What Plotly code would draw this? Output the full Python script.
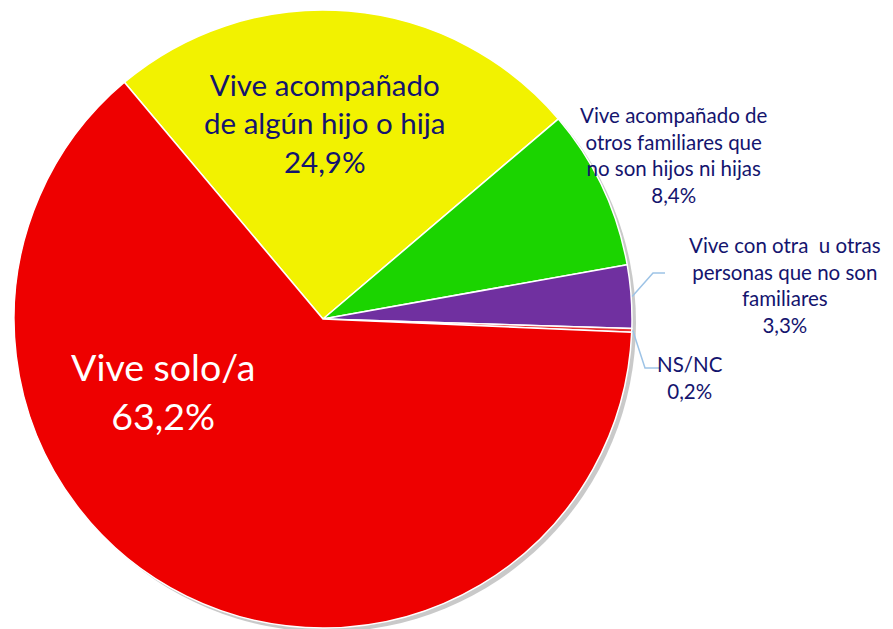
import math
import plotly.graph_objects as go

labels = ["Vive acompañado de algún hijo o hija",
          "Vive acompañado de otros familiares que no son hijos ni hijas",
          "Vive con otra  u otras personas que no son familiares",
          "NS/NC",
          "Vive solo/a"]
values = [24.9, 8.4, 3.3, 0.2, 63.2]
label_lines = [["Vive acompañado", "de algún hijo o hija"],
               ["Vive acompañado de", "otros familiares que", "no son hijos ni hijas"],
               ["Vive con otra  u otras", "personas que no son", "familiares"],
               ["NS/NC"],
               ["Vive solo/a"]]
pct_text = ["24,9%", "8,4%", "3,3%", "0,2%", "63,2%"]
colors = ["#F2F200", "#1BD400", "#7030A0", "#E83030", "#EE0000"]

W, H = 893, 629
OFF = 8  # page body margin in the browser


def fx(px):
    return (px - OFF) / W


def fy(py):
    return 1 - (py - OFF) / H


cx, cy, r = 323, 319, 309
rotation = -40

fig = go.Figure()
# soft shadow
shx, shy = 4, 4
fig.add_trace(go.Pie(values=[1], marker=dict(colors=["rgba(120,120,120,0.4)"]),
                     domain=dict(x=[fx(cx - r + shx), fx(cx + r + shx)],
                                 y=[max(0, fy(cy + r + shy)), fy(cy - r + shy)]),
                     textinfo="none", hoverinfo="skip", showlegend=False, sort=False))
fig.add_trace(go.Pie(labels=labels, values=values, sort=False, direction="clockwise",
                     rotation=rotation, marker=dict(colors=colors, line=dict(color="white", width=1.5)),
                     domain=dict(x=[fx(cx - r), fx(cx + r)], y=[fy(cy + r), fy(cy - r)]),
                     textinfo="none", showlegend=False))

navy = "#14146E"
font = "Lato"
label_pos = [(325, 123, 29.5, navy), (674, 155, 20.5, navy), (785, 285, 20.5, navy),
             (690, 377, 20.5, navy), (163, 391, 37.5, "white")]
for i, (x, y, s, c) in enumerate(label_pos):
    txt = "<br>".join(label_lines[i] + [pct_text[i]])
    fig.add_annotation(x=fx(x), y=fy(y), xref="paper", yref="paper", text=txt,
                       xanchor="center", yanchor="middle",
                       showarrow=False, align="center", font=dict(family=font, size=s, color=c))

# leader lines for small slices, starting at slice mid-angle on the rim
cum = 0
total = sum(values)
mids = []
for v in values:
    mids.append(rotation + (cum + v / 2) / total * 360)
    cum += v
leaders = {2: [(653, 273), (665, 273)], 3: [(645, 368), (660, 368)]}
for i, pts in leaders.items():
    a = math.radians(mids[i])
    sx, sy = cx + r * math.sin(a) + 1, cy - r * math.cos(a)
    path_pts = [(sx, sy)] + pts
    path = "M " + " L ".join(f"{fx(px)},{fy(py)}" for px, py in path_pts)
    fig.add_shape(type="path", xref="paper", yref="paper", path=path,
                  line=dict(color="#9DC3E6", width=1.5))

fig.update_layout(width=W, height=H, margin=dict(l=0, r=0, t=0, b=0),
                  paper_bgcolor="white", plot_bgcolor="white")
fig.write_html("out.html")
